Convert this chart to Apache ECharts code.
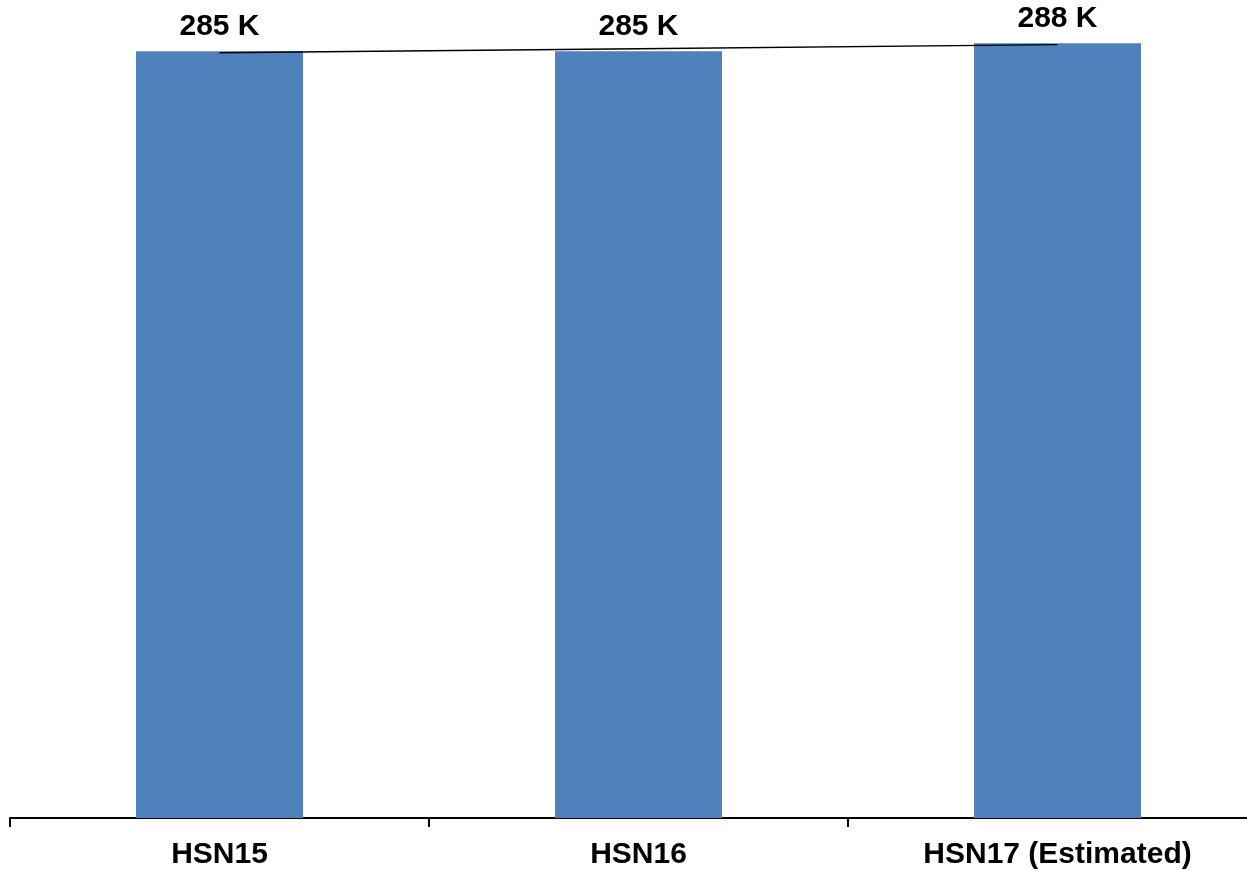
<!DOCTYPE html>
<html>
<head>
<meta charset="utf-8">
<style>
  html, body { margin: 0; padding: 0; background: #ffffff; overflow: hidden; }
  /* canvas is a little wider than the window so the last category runs off the right edge */
  #chart { width: 1267px; height: 871px; }
</style>
<script src="https://cdn.jsdelivr.net/npm/echarts@6/dist/echarts.min.js"></script>
</head>
<body>
<div id="chart"></div>
<script>
// Season totals (thousands)
const categories = ['HSN15', 'HSN16', 'HSN17 (Estimated)'];
const totals = [285, 285, 288];
// Linear trend line across the seasons (thousands)
const trend = [284.5, 286, 287.5];

const FONT = '"Liberation Sans", Arial, Helvetica, sans-serif';

const chart = echarts.init(document.getElementById('chart'), null, { renderer: 'canvas' });

chart.setOption({
  animation: false,
  backgroundColor: '#ffffff',
  grid: { left: 10, right: 0, top: 11, bottom: 53, containLabel: false },
  xAxis: {
    type: 'category',
    data: categories,
    boundaryGap: true,
    axisLine: { show: true, lineStyle: { color: '#000000', width: 2 } },
    axisTick: { show: true, inside: false, length: 9, alignWithLabel: false,
                lineStyle: { color: '#000000', width: 2 } },
    axisLabel: { color: '#000000', fontFamily: FONT, fontWeight: 'bold', fontSize: 30, margin: 22 },
    splitLine: { show: false }
  },
  yAxis: {
    type: 'value',
    min: 0,
    max: 300,
    show: false,
    splitLine: { show: false }
  },
  series: [
    {
      type: 'bar',
      data: totals,
      barWidth: 167,
      itemStyle: { color: '#4F81BD' },
      label: {
        show: true,
        position: 'top',
        distance: 10,
        formatter: '{c} K',
        color: '#000000',
        fontFamily: FONT,
        fontWeight: 'bold',
        fontSize: 30
      },
      z: 2
    },
    {
      type: 'line',
      data: trend,
      showSymbol: false,
      symbol: 'none',
      lineStyle: { color: '#000000', width: 1.5 },
      z: 3
    }
  ]
});
</script>
</body>
</html>
